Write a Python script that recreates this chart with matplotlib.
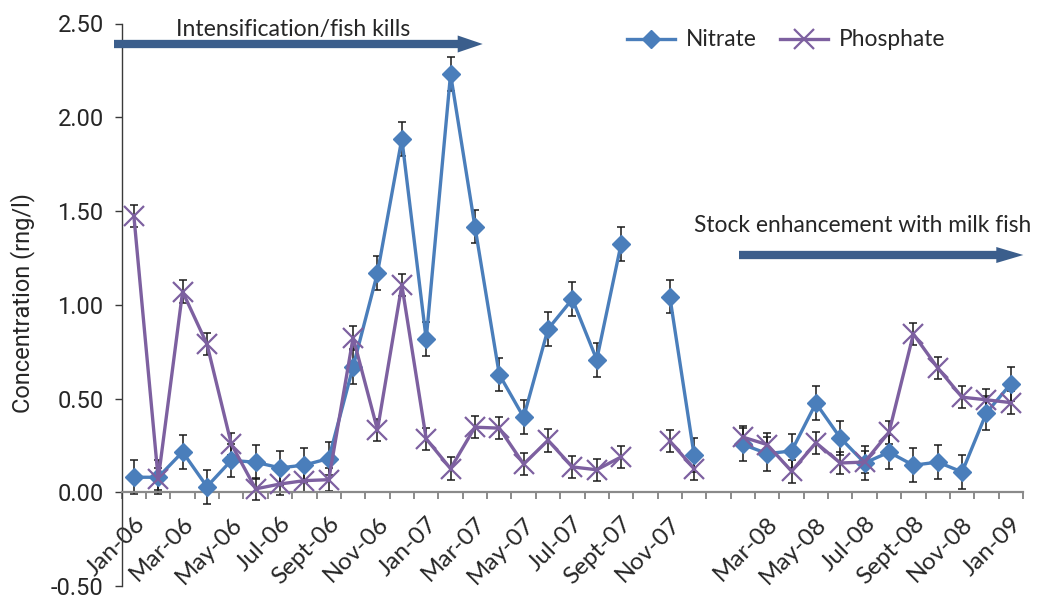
import numpy as np
import matplotlib
matplotlib.use("Agg")
import matplotlib.pyplot as plt
from matplotlib.patches import FancyArrow
from matplotlib.ticker import FormatStrFormatter

# monthly samples Jan-06 .. Jan-09 (nan = no sample)
nitrate = [0.08, 0.08, 0.215, 0.03, 0.17, 0.16, 0.13, 0.145, 0.18, 0.67,
           1.17, 1.885, 0.816, 2.23, 1.417, 0.628, 0.40, 0.87, 1.03, 0.707,
           1.323, np.nan, 1.044, 0.197, np.nan, 0.255, 0.206, 0.22, 0.475, 0.29,
           0.156, 0.214, 0.144, 0.161, 0.108, 0.424, 0.578]
phosphate = [1.473, 0.07, 1.07, 0.79, 0.257, 0.018, 0.044, 0.062, 0.067, 0.825,
             0.333, 1.105, 0.285, 0.126, 0.347, 0.342, 0.15, 0.277, 0.135, 0.12,
             0.188, np.nan, 0.273, 0.126, np.nan, 0.294, 0.254, 0.112, 0.264, 0.156,
             0.161, 0.32, 0.844, 0.663, 0.507, 0.493, 0.478]
nitrate_err = 0.09
phosphate_err = 0.06

# labels shown on every second month
tick_labels = ["Jan-06", "Mar-06", "May-06", "Jul-06", "Sept-06", "Nov-06",
               "Jan-07", "Mar-07", "May-07", "Jul-07", "Sept-07", "Nov-07",
               "", "Mar-08", "May-08", "Jul-08", "Sept-08", "Nov-08", "Jan-09"]

W, H = 1042, 599
fig = plt.figure(figsize=(W / 100, H / 100), dpi=100)
ax = fig.add_axes([121.7 / W, 1 - 586 / H, (1023 - 121.7) / W, (586 - 23.5) / H])

x = np.arange(len(nitrate))
txt = "#262626"

ax.errorbar(x, nitrate, yerr=nitrate_err, fmt="none", ecolor="#1a1a1a",
            elinewidth=1.1, capsize=3, capthick=1.1, zorder=2)
ax.errorbar(x, phosphate, yerr=phosphate_err, fmt="none", ecolor="#1a1a1a",
            elinewidth=1.1, capsize=3, capthick=1.1, zorder=2)
ax.plot(x, nitrate, color="#4A7EBB", lw=2.4, marker="D", ms=9,
        zorder=3, label="Nitrate")
ax.plot(x, phosphate, color="#7D60A0", lw=2.4, marker="x", ms=14, mew=1.6,
        zorder=4, label="Phosphate")

ax.set_xlim(-0.5, len(nitrate) - 0.5)
ax.set_ylim(-0.5, 2.5)
ax.set_yticks(np.arange(-0.5, 2.51, 0.5))
ax.yaxis.set_major_formatter(FormatStrFormatter("%.2f"))

for s in ["top", "right"]:
    ax.spines[s].set_visible(False)
ax.spines["bottom"].set_position(("data", 0))
ax.spines["bottom"].set_color("#8a8a8a")
ax.spines["bottom"].set_linewidth(1.6)
ax.spines["left"].set_color("#3a3a3a")
ax.spines["left"].set_linewidth(1.0)

ax.set_xticks(x[::2])
ax.set_xticklabels(tick_labels, rotation=45, ha="right", va="top",
                   rotation_mode="anchor", fontsize=17.5, family="Lato", color=txt)
ax.set_xticks(np.arange(-0.5, len(nitrate), 1), minor=True)
ax.tick_params(axis="x", which="major", length=0, pad=15)
ax.tick_params(axis="x", which="minor", length=5, width=1.4, color="#8a8a8a", direction="out")
ax.tick_params(axis="y", length=5, width=1.0, color="#3a3a3a", pad=8,
               labelsize=17, labelcolor=txt)
for t in ax.get_yticklabels():
    t.set_family("Roboto")

fig.text(23 / W, 1 - 303 / H, "Concentration (rng/l)", rotation=90, ha="center",
         va="center", fontsize=17, family="Roboto", color=txt)

ax.legend(loc="center left", bbox_to_anchor=(618 / W, 1 - 40 / H),
          bbox_transform=fig.transFigure, frameon=False, ncol=2, borderaxespad=0,
          handlelength=2.1, handletextpad=0.5, columnspacing=1.0,
          prop={"family": "Lato", "size": 16.4}, labelcolor=txt)

# period annotations
fig.text(176 / W, 1 - 36 / H, "Intensification/fish kills", ha="left",
         va="baseline", fontsize=16.6, family="Lato", color=txt)
fig.text(694 / W, 1 - 231.7 / H, "Stock enhancement with milk fish", ha="left",
         va="baseline", fontsize=16.4, family="Lato", color=txt)

arrow_col = "#3B5E8C"
a1 = FancyArrow(114 / W, 1 - 44 / H, (482.7 - 114) / W, 0, width=8.3 / H,
                head_width=17 / H, head_length=25 / W, length_includes_head=True,
                transform=fig.transFigure, color=arrow_col, lw=0)
a2 = FancyArrow(739 / W, 1 - 255 / H, (1023.3 - 739) / W, 0, width=8.3 / H,
                head_width=16 / H, head_length=27 / W, length_includes_head=True,
                transform=fig.transFigure, color=arrow_col, lw=0)
fig.patches.extend([a1, a2])

fig.savefig("out.png", dpi=100)
